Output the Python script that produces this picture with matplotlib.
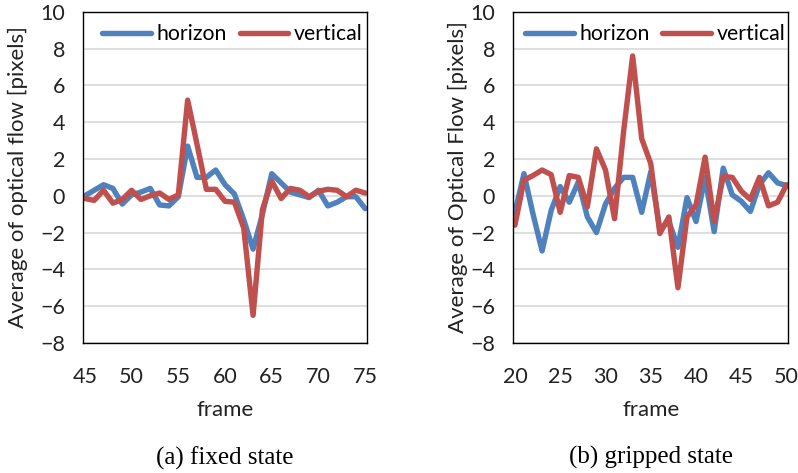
import matplotlib
matplotlib.use("Agg")
import matplotlib.pyplot as plt

# (a) fixed state, frames 45..75
frames_a = list(range(45, 76))
horizon_a = [0.0, 0.3, 0.6, 0.4, -0.45, 0.05, 0.2, 0.4, -0.5, -0.55, -0.05,
             2.7, 1.0, 1.0, 1.4, 0.6, 0.1, -1.3, -2.9, -1.0, 1.2, 0.7, 0.2,
             0.05, -0.1, 0.3, -0.55, -0.35, -0.05, -0.05, -0.7]
vertical_a = [-0.15, -0.25, 0.3, -0.4, -0.2, 0.3, -0.2, 0.0, 0.15, -0.2, 0.05,
              5.2, 2.8, 0.35, 0.35, -0.3, -0.35, -1.75, -6.5, -0.75, 0.8,
              -0.15, 0.4, 0.3, -0.05, 0.25, 0.35, 0.3, -0.05, 0.3, 0.15]

# (b) gripped state, frames 20..50
frames_b = list(range(20, 51))
horizon_b = [-0.9, 1.2, -1.0, -3.0, -0.8, 0.5, -0.35, 0.75, -1.15, -2.0, -0.45,
             0.4, 1.0, 1.0, -0.9, 1.3, -1.8, -1.4, -2.8, -0.1, -1.4, 1.0,
             -1.95, 1.5, 0.05, -0.3, -0.85, 0.6, 1.25, 0.7, 0.55]
vertical_b = [-1.6, 0.85, 1.1, 1.4, 1.15, -0.9, 1.1, 1.0, -0.6, 2.55, 1.4,
              -1.25, 3.5, 7.6, 3.1, 1.75, -2.05, -1.15, -5.0, -1.15, -0.5,
              2.1, -1.4, 1.05, 1.0, 0.25, -0.2, 1.0, -0.55, -0.35, 0.6]

blue = "#4F81BD"
red = "#C0504D"
sans = ["Lato", "DejaVu Sans"]
serif = ["Liberation Serif", "DejaVu Serif"]

fig = plt.figure(figsize=(7.98, 4.73), dpi=100)


def panel(rect, x, h, v, ylabel, caption, xticks, ylab_x, leg_x):
    ax = fig.add_axes(rect)
    ax.plot(x, h, color=blue, lw=3.9, label="horizon", solid_joinstyle="round",
            solid_capstyle="round")
    ax.plot(x, v, color=red, lw=3.9, label="vertical", solid_joinstyle="round",
            solid_capstyle="round")
    ax.set_ylim(-8, 10)
    ax.set_yticks(range(-8, 11, 2))
    ax.set_xlim(x[0] - 0.2, x[-1] + 0.2)
    ax.set_xticks(xticks)
    ax.grid(axis="y", color="#D9D9D9", lw=1.2)
    ax.set_axisbelow(True)
    ax.tick_params(length=0, labelsize=15.5, colors="#222222")
    ax.tick_params(axis="y", pad=13)
    ax.tick_params(axis="x", pad=17)
    for lab in ax.get_xticklabels() + ax.get_yticklabels():
        lab.set_family(sans)
    for s in ax.spines.values():
        s.set_color("black")
        s.set_linewidth(1.0)
    ax.set_ylabel(ylabel, fontsize=16, family=sans, color="#222222")
    ax.yaxis.set_label_coords(ylab_x, 0.5)
    ax.set_xlabel("frame", fontsize=16, family=sans, color="#222222")
    ax.xaxis.set_label_coords(0.5, -0.173)
    ax.legend(loc="center", ncol=2, frameon=False,
              prop={"family": sans, "size": 15.3}, handlelength=2.3,
              handletextpad=0.25, columnspacing=0.6,
              bbox_to_anchor=(leg_x, 0.932), borderaxespad=0, borderpad=0)
    ax.text(0.5, -0.347, caption, transform=ax.transAxes, ha="center",
            va="center", fontsize=18, family=serif)
    return ax


panel([0.104, 0.275, 0.356, 0.700], frames_a, horizon_a, vertical_a,
      "Average of optical flow [pixels]", "(a) fixed state",
      range(45, 76, 5), -0.194, 0.526)
panel([0.643, 0.275, 0.345, 0.700], frames_b, horizon_b, vertical_b,
      "Average of Optical Flow [pixels]", "(b) gripped state",
      range(20, 51, 5), -0.164, 0.516)

fig.savefig("out.png", dpi=100)
